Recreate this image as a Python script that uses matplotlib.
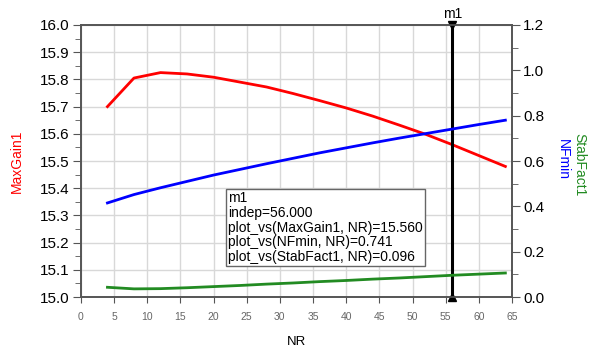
import numpy as np
import matplotlib
matplotlib.use('Agg')
from matplotlib import pyplot as plt
from matplotlib.ticker import MultipleLocator, FormatStrFormatter

plt.rcParams['font.family'] = ['Liberation Sans', 'DejaVu Sans']

# 数据
nr = [4, 8, 12, 16, 20, 24, 28, 32, 36, 40, 44, 48, 52, 56, 60, 64]
max_gain = [15.700, 15.805, 15.825, 15.820, 15.808, 15.790, 15.772, 15.748,
            15.722, 15.695, 15.665, 15.632, 15.598, 15.560, 15.520, 15.480]
nf_min = [0.415, 0.452, 0.482, 0.510, 0.538, 0.563, 0.588, 0.612,
          0.636, 0.658, 0.680, 0.701, 0.721, 0.741, 0.761, 0.780]
stab_fact = [0.043, 0.036, 0.037, 0.041, 0.046, 0.051, 0.057, 0.062,
             0.068, 0.073, 0.079, 0.084, 0.090, 0.096, 0.101, 0.106]
marker_x = 56
marker_text = ['m1', 'indep=56.000', 'plot_vs(MaxGain1, NR)=15.560',
               'plot_vs(NFmin, NR)=0.741', 'plot_vs(StabFact1, NR)=0.096']

spine_c = '#555555'

fig = plt.figure(figsize=(5.95, 3.47), dpi=100)
ax = fig.add_axes([0.136, 0.144, 0.7245, 0.784])
ax2 = ax.twinx()

# 绘图
ax.plot(nr, max_gain, color='#ff0000', lw=2)
ax2.plot(nr, nf_min, color='#0000ff', lw=2)
ax2.plot(nr, stab_fact, color='#228b22', lw=2)

# 坐标轴
ax.set_xlim(0, 65)
ax.set_ylim(15.0, 16.0)
ax2.set_ylim(0, 1.2)
ax.xaxis.set_major_locator(MultipleLocator(5))
ax.yaxis.set_major_locator(MultipleLocator(0.1))
ax.yaxis.set_minor_locator(MultipleLocator(0.05))
ax2.yaxis.set_major_locator(MultipleLocator(0.2))
ax2.yaxis.set_minor_locator(MultipleLocator(0.1))
ax.yaxis.set_major_formatter(FormatStrFormatter('%.1f'))
ax2.yaxis.set_major_formatter(FormatStrFormatter('%.1f'))

ax.grid(True, color='#d8d8d8', lw=1)
ax.set_axisbelow(True)
for a in (ax, ax2):
    for s in a.spines.values():
        s.set_color(spine_c)
        s.set_linewidth(1.2)
ax.tick_params(axis='x', labelsize=7.5, labelcolor='#666666', color=spine_c, length=4, pad=7)
ax.tick_params(axis='y', which='major', labelsize=11, color=spine_c, length=6, pad=2)
ax.tick_params(axis='y', which='minor', color=spine_c, length=4)
ax2.tick_params(axis='y', which='major', labelsize=11, color=spine_c, length=6, pad=2)
ax2.tick_params(axis='y', which='minor', color=spine_c, length=4)

ax.set_xlabel('NR', fontsize=9.5, labelpad=10)
ax.set_ylabel('MaxGain1', fontsize=10, color='#ff0000', labelpad=12)
fig.text(0.946, 0.54, 'NFmin', rotation=270, color='#0000ff', fontsize=10,
         ha='center', va='center')
fig.text(0.974, 0.525, 'StabFact1', rotation=270, color='#228b22', fontsize=10,
         ha='center', va='center')

# 标记 m1
ax.axvline(marker_x, color='black', lw=2.2, zorder=5)
ax.plot([marker_x], [16.0], marker='v', color='black', ms=6, clip_on=False, zorder=6)
ax.plot([marker_x], [15.0], marker='^', color='black', ms=6, clip_on=False, zorder=6)
ax.text(marker_x, 16.015, 'm1', ha='center', va='bottom', fontsize=10)

ax.text(22.2, 15.388, '\n'.join(marker_text), fontsize=10, va='top', ha='left',
        linespacing=1.05, zorder=7,
        bbox=dict(boxstyle='square,pad=0.15', fc='white', ec='#666666', lw=1))

plt.savefig('out.png', dpi=100)
